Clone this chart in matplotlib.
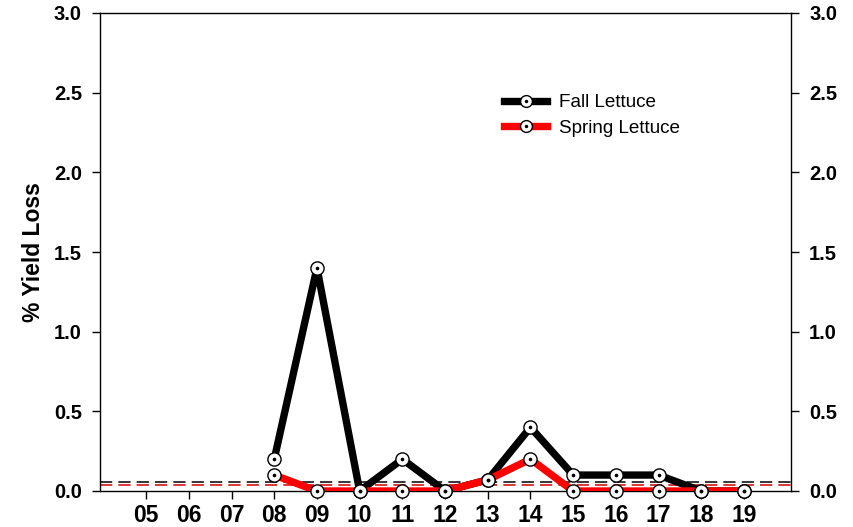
import matplotlib
matplotlib.use("Agg")
import matplotlib.pyplot as plt
from matplotlib.lines import Line2D

plt.rcParams['font.family'] = ['Liberation Sans', 'DejaVu Sans']

years = [8, 9, 10, 11, 12, 13, 14, 15, 16, 17, 18, 19]
fall = [0.2, 1.4, 0.0, 0.2, 0.0, 0.07, 0.4, 0.1, 0.1, 0.1, 0.0, 0.0]
spring = [0.1, 0.0, 0.0, 0.0, 0.0, 0.07, 0.2, 0.0, 0.0, 0.0, 0.0, 0.0]
xticks = list(range(5, 20))
xlabels = [f"{y:02d}" for y in xticks]
yticks = [0.0, 0.5, 1.0, 1.5, 2.0, 2.5, 3.0]
fall_ref = 0.055
spring_ref = 0.035

fig = plt.figure(figsize=(8.54, 5.27), dpi=100)
ax = fig.add_axes([100/854, 36/527, 691/854, 478/527])

ax.axhline(fall_ref, color="black", lw=1.1, ls=(0, (8, 4)), zorder=1)
ax.axhline(spring_ref, color="#d00000", lw=1.1, ls=(0, (8, 4)), zorder=1)

ax.plot(years, fall, color="black", lw=5.3, zorder=2, solid_capstyle="butt")
ax.plot(years, spring, color="red", lw=5.3, zorder=3, solid_capstyle="butt")
for ys in (fall, spring):
    ax.plot(years, ys, ls="none", marker="o", ms=9.5, mfc="white", mec="black",
            mew=1.0, zorder=4, clip_on=False)
    ax.plot(years, ys, ls="none", marker="o", ms=1.6, mfc="black", mec="black",
            zorder=5, clip_on=False)

ax.set_xlim(3.92, 20.1)
ax.set_ylim(0, 3.0)
ax.set_xticks(xticks)
ax.set_xticklabels(xlabels, fontsize=16.5, fontweight="bold")
ax.set_yticks(yticks)
ax.set_yticklabels([f"{v:.1f}" for v in yticks], fontsize=14.5, fontweight="bold")
ax.tick_params(axis="y", which="both", direction="out", length=6, width=1,
               right=True, labelright=True, pad=7)
ax.tick_params(axis="x", direction="out", length=6, width=1, pad=3)
for s in ax.spines.values():
    s.set_linewidth(1.0)
ax.set_ylabel("% Yield Loss", fontsize=16.5, fontweight="bold", labelpad=6)

dot = Line2D([], [], ls="none", marker="o", ms=1.5, mfc="black", mec="black")
handles = [
    (Line2D([], [], color="black", lw=5.3, marker="o", ms=8.5, mfc="white",
            mec="black"), dot),
    (Line2D([], [], color="red", lw=5.3, marker="o", ms=8.5, mfc="white",
            mec="black"), dot),
]
ax.legend(handles, ["Fall Lettuce", "Spring Lettuce"], loc="upper left",
          bbox_to_anchor=(0.56, 0.866), frameon=False, fontsize=13.6,
          handlelength=2.3, handletextpad=0.6, labelspacing=0.45,
          numpoints=1)

fig.savefig("out.png", dpi=100)
